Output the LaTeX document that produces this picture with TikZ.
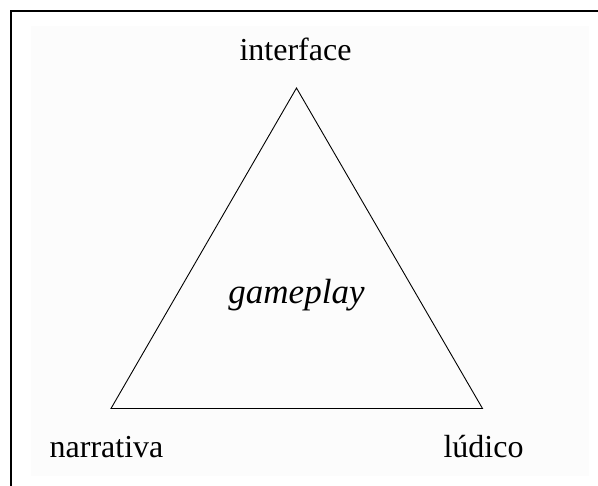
\documentclass[tikz,border=0pt]{standalone}
\usepackage{fontspec}
\setmainfont{Liberation Serif}
\tikzset{
  label text/.style={font=\fontsize{32}{38}\selectfont,anchor=base},
  side/.style={line width=0.9pt,line join=miter}
}
\begin{document}
\begin{tikzpicture}[x=1pt,y=-1pt]
\useasboundingbox (0,0) rectangle (598,486);
%\draw[gray,very thin] (0,0) grid[step=50] (598,486);
\fill[black!1] (31,26) rectangle (589,476);
\draw[line width=2.4pt] (11,487) -- (11,11) -- (599,11);
\coordinate (top) at (296.5,88);
\coordinate (left) at (111,408.5);
\coordinate (right) at (482.5,408.5);
\draw[side] (top) -- (right) -- (left) -- cycle;
\node[label text] (interface) at (295.5,61) {interface};
\node[label text,font=\fontsize{35}{42}\selectfont\itshape] (gameplay) at (296.5,304) {gameplay};
\node[label text] (narrativa) at (106.5,458) {narrativa};
\node[label text] (ludico) at (483.5,458) {lúdico};
\end{tikzpicture}
\end{document}
